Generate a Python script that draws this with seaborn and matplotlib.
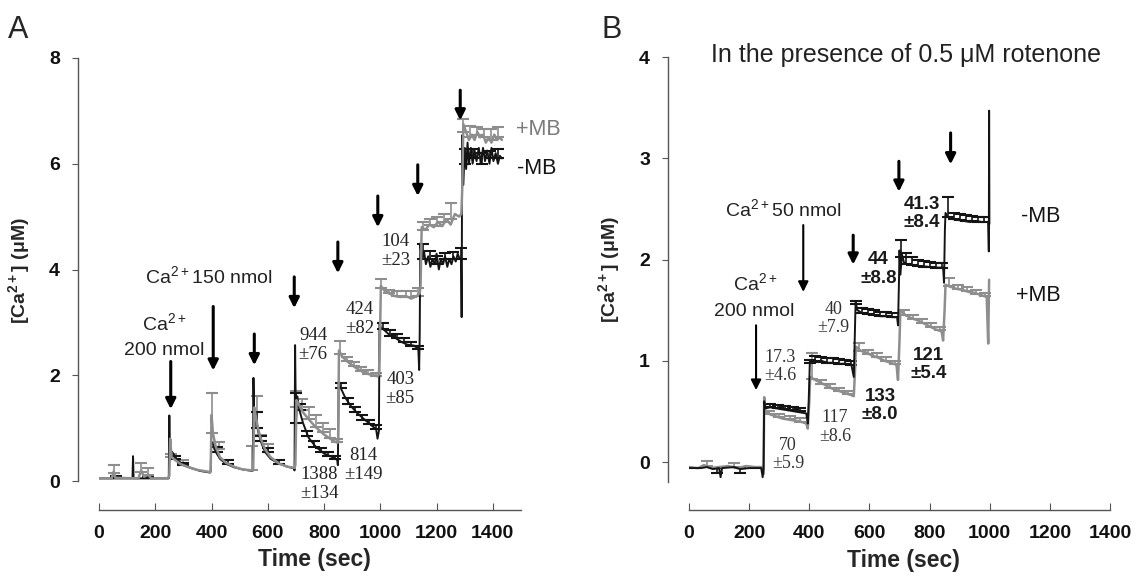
import numpy as np
import matplotlib
matplotlib.use('Agg')
import matplotlib.pyplot as plt
import seaborn as sns

# ---- Panel A traces (time in sec, [Ca2+] in uM) ----
a_black_t = [0, 60, 119, 121, 123, 180, 248,
             250, 252, 260, 275, 300, 330, 360, 395,
             397, 399, 405, 415, 430, 450, 480, 510, 545,
             547, 549, 552, 556, 565, 575, 590, 610, 640, 670, 693,
             695, 697, 700, 705, 712, 725, 745, 770, 800, 830, 847,
             849, 852, 860, 875, 895, 915, 940, 965, 985, 990,
             995, 997, 1002, 1015, 1035, 1055, 1075, 1095, 1120, 1135, 1138,
             1140, 1142, 1148, 1155, 1162, 1170, 1178, 1185, 1193, 1200, 1208, 1215, 1223,
             1230, 1238, 1245, 1253, 1260, 1268, 1275, 1282, 1287,
             1289, 1291, 1295, 1300, 1305, 1310, 1315, 1322, 1328, 1335, 1342, 1350,
             1357, 1365, 1372, 1380, 1388, 1395, 1402, 1410, 1418, 1425, 1432]
a_black_y = [0.05, 0.05, 0.05, 0.47, 0.05, 0.05, 0.05,
             1.24, 0.45, 0.55, 0.42, 0.30, 0.24, 0.19, 0.16,
             0.18, 0.75, 0.70, 0.55, 0.42, 0.33, 0.26, 0.22, 0.19,
             0.20, 1.95, 1.00, 1.30, 0.95, 0.75, 0.55, 0.42, 0.33, 0.27, 0.24,
             0.20, 2.57, 1.10, 1.60, 1.35, 1.10, 0.82, 0.65, 0.52, 0.45, 0.40,
             0.30, 1.84, 1.75, 1.58, 1.42, 1.30, 1.18, 1.07, 0.98, 0.80,
             0.95, 3.00, 2.90, 2.85, 2.75, 2.70, 2.63, 2.58, 2.56, 2.50, 2.10,
             2.80, 4.49, 4.20, 4.35, 4.10, 4.25, 4.05, 4.20, 4.10, 4.30, 4.00, 4.20, 4.10,
             4.25, 4.05, 4.20, 4.10, 4.25, 4.15, 4.30, 4.20, 4.20,
             3.10, 6.54, 5.60, 6.30, 5.90, 6.40, 6.00, 6.30, 6.00, 6.25, 6.05, 6.30,
             6.00, 6.30, 6.05, 6.25, 6.00, 6.30, 6.05, 6.20, 6.00, 6.15, 6.10]

a_gray_t = [0, 45, 52, 58, 140, 150, 160, 175, 185, 245,
            250, 253, 258, 270, 290, 320, 350, 395,
            397, 400, 405, 415, 430, 450, 480, 510, 545,
            548, 552, 558, 565, 575, 590, 610, 640, 670, 695,
            698, 702, 710, 725, 745, 770, 800, 830, 848,
            850, 853, 865, 885, 910, 935, 960, 990, 995,
            998, 1002, 1015, 1030, 1050, 1070, 1090, 1110, 1130, 1140,
            1143, 1147, 1160, 1175, 1190, 1205, 1220, 1235, 1250, 1265, 1280, 1288,
            1291, 1295, 1305, 1315, 1325, 1335, 1345, 1355, 1365, 1375, 1385, 1395,
            1405, 1415, 1425, 1432]
a_gray_y = [0.05, 0.05, 0.18, 0.06, 0.05, 0.20, 0.08, 0.12, 0.05, 0.05,
            0.10, 0.80, 0.45, 0.40, 0.32, 0.26, 0.21, 0.17,
            0.20, 1.25, 0.90, 0.65, 0.45, 0.35, 0.27, 0.22, 0.20,
            0.22, 1.39, 1.20, 1.00, 0.80, 0.60, 0.45, 0.33, 0.27, 0.25,
            0.30, 1.53, 1.45, 1.30, 1.17, 1.02, 0.88, 0.77, 0.72,
            0.75, 2.47, 2.35, 2.25, 2.15, 2.07, 2.02, 1.98, 2.02,
            2.50, 3.69, 3.60, 3.55, 3.50, 3.48, 3.50, 3.45, 3.50, 3.55,
            3.70, 4.80, 4.75, 4.85, 4.80, 4.90, 4.82, 4.95, 4.85, 5.05, 5.00, 5.05,
            5.50, 6.75, 6.60, 6.45, 6.55, 6.45, 6.60, 6.50, 6.55, 6.40, 6.50, 6.40,
            6.55, 6.45, 6.50, 6.45]

# error bars (time, mean, upper error)
a_black_eb_t = [60, 175, 270, 300, 420, 460, 560, 575, 600, 640, 700, 715, 740, 765, 790, 815,
                840, 860, 885, 910, 935, 960, 985, 1010, 1035, 1060, 1085, 1110, 1135,
                1150, 1175, 1200, 1230, 1260, 1285, 1300, 1330, 1360, 1390, 1420]
a_black_eb_y = [0.05, 0.05, 0.42, 0.30, 0.55, 0.33, 1.00, 0.75, 0.55, 0.33, 1.10, 1.35, 0.85, 0.65, 0.55, 0.48,
                0.42, 1.75, 1.45, 1.30, 1.15, 1.07, 0.98, 2.88, 2.75, 2.70, 2.62, 2.56, 2.50,
                4.20, 4.20, 4.10, 4.20, 4.20, 4.20, 6.00, 6.10, 6.00, 6.10, 6.10]
a_black_eb_e = [0.04, 0.03, 0.06, 0.05, 0.09, 0.06, 0.31, 0.10, 0.08, 0.06, 0.57, 0.10, 0.10, 0.10, 0.08, 0.06,
                0.05, 0.10, 0.12, 0.10, 0.10, 0.08, 0.08, 0.11, 0.10, 0.08, 0.08, 0.06, 0.06,
                0.29, 0.15, 0.15, 0.12, 0.14, 0.20, 0.28, 0.18, 0.20, 0.15, 0.18]

a_gray_eb_t = [52, 150, 175, 255, 300, 400, 425, 545, 560, 575, 600, 700, 720, 745, 770, 795, 820, 845,
               855, 880, 905, 930, 955, 985, 1002, 1030, 1060, 1090, 1110, 1135,
               1150, 1175, 1200, 1225, 1250, 1295, 1320, 1345, 1370, 1395, 1420]
a_gray_eb_y = [0.15, 0.17, 0.12, 0.45, 0.30, 0.90, 0.60, 0.20, 1.30, 0.75, 0.55, 1.40, 1.35, 1.17, 1.02, 0.92, 0.82, 0.73,
               2.40, 2.27, 2.17, 2.08, 2.03, 1.98, 3.65, 3.55, 3.50, 3.48, 3.48, 3.50,
               4.75, 4.85, 4.82, 4.90, 4.95, 6.60, 6.50, 6.55, 6.50, 6.45, 6.50]
a_gray_eb_e = [0.16, 0.18, 0.12, 0.07, 0.10, 0.77, 0.13, 0.46, 0.31, 0.12, 0.15, 0.30, 0.20, 0.23, 0.23, 0.18, 0.16, 0.07,
               0.24, 0.08, 0.08, 0.07, 0.07, 0.07, 0.18, 0.07, 0.10, 0.12, 0.12, 0.15,
               0.15, 0.10, 0.18, 0.15, 0.30, 0.25, 0.22, 0.15, 0.15, 0.20, 0.20]

# ---- Panel B traces ----
b_black_t = [0, 40, 60, 80, 100, 105, 110, 150, 170, 200, 240, 245, 248,
             250, 255, 270, 290, 310, 330, 350, 370, 390, 395,
             398, 402, 420, 440, 460, 480, 500, 520, 540, 548,
             551, 554, 560, 575, 595, 615, 635, 655, 675, 692, 695,
             698, 700, 703, 708, 715, 730, 750, 770, 790, 810, 830, 845, 848,
             851, 853, 860, 875, 895, 915, 935, 955, 975, 995, 997, 998, 999]
b_black_y = [-0.06, -0.06, -0.05, -0.07, -0.06, -0.15, -0.06, -0.05, -0.07, -0.06, -0.06, -0.15, -0.05,
             0.60, 0.53, 0.54, 0.53, 0.52, 0.51, 0.50, 0.49, 0.48, 0.38,
             0.60, 1.00, 0.99, 1.00, 0.98, 0.98, 0.97, 0.97, 0.96, 0.84,
             1.20, 1.58, 1.50, 1.47, 1.46, 1.45, 1.44, 1.44, 1.43, 1.43, 1.35,
             1.75, 2.09, 1.85, 2.05, 1.97, 1.95, 1.94, 1.93, 1.93, 1.92, 1.92, 1.92, 1.77,
             2.30, 2.46, 2.42, 2.40, 2.39, 2.38, 2.37, 2.38, 2.37, 2.37, 2.08, 3.47, 2.35]

b_gray_t = [0, 30, 50, 70, 100, 130, 160, 190, 220, 245,
            248, 250, 254, 270, 290, 310, 330, 350, 370, 390, 395,
            400, 403, 420, 440, 460, 480, 500, 520, 540, 548,
            552, 555, 570, 590, 610, 630, 650, 670, 690, 695,
            700, 703, 720, 740, 760, 780, 800, 820, 840, 845,
            850, 853, 870, 890, 910, 930, 950, 970, 990, 995, 998]
b_gray_y = [-0.05, -0.06, -0.03, -0.06, -0.05, -0.04, -0.06, -0.04, -0.05, -0.05,
            -0.12, 0.64, 0.50, 0.47, 0.45, 0.43, 0.42, 0.41, 0.40, 0.38, 0.33,
            0.60, 0.84, 0.81, 0.78, 0.75, 0.72, 0.70, 0.68, 0.66, 0.65,
            0.90, 1.14, 1.10, 1.08, 1.05, 1.03, 1.00, 0.98, 0.96, 0.81,
            1.20, 1.50, 1.45, 1.42, 1.40, 1.37, 1.34, 1.31, 1.29, 1.20,
            1.50, 1.75, 1.73, 1.71, 1.70, 1.68, 1.67, 1.65, 1.63, 1.17, 1.80]

b_black_eb_t = [92, 170, 270, 295, 320, 345, 370, 402, 420, 440, 460, 480, 500, 520, 540,
                556, 575, 595, 615, 635, 655, 675, 705, 720, 740, 760, 780, 800, 820, 840,
                860, 880, 900, 920, 940, 960, 980]
b_black_eb_y = [-0.06, -0.06, 0.54, 0.53, 0.52, 0.51, 0.50, 0.98, 1.00, 0.99, 0.98, 0.98, 0.97, 0.97, 0.96,
                1.56, 1.47, 1.46, 1.45, 1.44, 1.44, 1.43, 2.02, 1.96, 1.95, 1.94, 1.93, 1.93, 1.92, 1.92,
                2.42, 2.40, 2.39, 2.38, 2.38, 2.37, 2.37]
b_black_eb_lo = [0.05, 0.05, 0, 0, 0, 0, 0, 0, 0, 0, 0, 0, 0, 0, 0,
                 0, 0, 0, 0, 0, 0, 0, 0, 0, 0, 0, 0, 0, 0, 0,
                 0, 0, 0, 0, 0, 0, 0]
b_black_eb_hi = [0, 0, 0.03, 0.03, 0.03, 0.03, 0.03, 0.03, 0.05, 0.05, 0.05, 0.05, 0.05, 0.04, 0.04,
                 0.03, 0.05, 0.05, 0.05, 0.04, 0.04, 0.04, 0.17, 0.10, 0.07, 0.06, 0.06, 0.05, 0.05, 0.05,
                 0.20, 0.06, 0.06, 0.06, 0.05, 0.05, 0.05]

b_gray_eb_t = [60, 150, 265, 300, 335, 370, 410, 440, 470, 500, 530, 565, 595, 625, 655, 685,
               715, 745, 775, 805, 835, 865, 895, 925, 955, 985]
b_gray_eb_y = [-0.04, -0.05, 0.47, 0.44, 0.42, 0.40, 0.82, 0.77, 0.73, 0.70, 0.67, 1.10, 1.07, 1.04, 1.00, 0.97,
               1.45, 1.41, 1.37, 1.33, 1.30, 1.74, 1.71, 1.69, 1.66, 1.64]
b_gray_eb_e = [0.05, 0.04, 0.03, 0.03, 0.03, 0.03, 0.26, 0.04, 0.04, 0.03, 0.03, 0.08, 0.04, 0.04, 0.04, 0.03,
               0.05, 0.04, 0.04, 0.04, 0.03, 0.08, 0.04, 0.04, 0.04, 0.03]

# arrows: (time, tail y, tip y)
a_arrows = [(255, 2.26, 1.36), (406, 3.30, 2.09), (552, 2.78, 2.19), (694, 3.86, 3.27),
            (849, 4.52, 3.93), (991, 5.39, 4.80), (1133, 5.98, 5.39), (1284, 7.39, 6.82)]
b_arrows = [(223, 1.35, 0.71), (380, 2.34, 1.68), (546, 2.24, 1.95), (698, 2.97, 2.67), (870, 3.25, 2.94)]

# numeric annotations: (text, time, y)
a_notes = [('944\n±76', 761, 2.57), ('1388\n±134', 784, -0.06), ('814\n±149', 940, 0.30),
           ('424\n±82', 926, 3.06), ('403\n±85', 1071, 1.74), ('104\n±23', 1055, 4.35)]
b_notes_serif = [('17.3\n±4.6', 303, 0.94), ('40\n±7.9', 480, 1.415), ('70\n±5.9', 330, 0.075),
                 ('117\n±8.6', 486, 0.345)]
b_notes_bold = [('44\n±8.8', 630, 1.905), ('41.3\n±8.4', 774, 2.455), ('133\n±8.0', 635, 0.555),
                ('121\n±5.4', 796, 0.965)]

BLACK = '#141414'
GRAY = '#8e8e8e'

sns.set_style('ticks')
plt.rcParams['font.family'] = ['Liberation Sans', 'DejaVu Sans']
plt.rcParams['mathtext.fontset'] = 'custom'
plt.rcParams['mathtext.rm'] = 'Liberation Sans'
plt.rcParams['mathtext.bf'] = 'Liberation Sans:bold'
plt.rcParams['mathtext.default'] = 'regular'

fig = plt.figure(figsize=(11.37, 5.8), dpi=100)
ax_a = fig.add_axes([99 / 1137, 70 / 580, 422 / 1137, 452 / 580])
ax_b = fig.add_axes([689 / 1137, 70 / 580, 421 / 1137, 453 / 580])


def style_axes(ax, xmax, ylo, yhi, yticks, ybound_lo):
    ax.set_xlim(0, xmax)
    ax.set_ylim(ylo, yhi)
    ax.set_xticks(range(0, 1401, 200))
    ax.set_yticks(yticks)
    for s in ['top', 'right']:
        ax.spines[s].set_visible(False)
    ax.spines['left'].set_position(('outward', 15))
    ax.spines['left'].set_bounds(ybound_lo, yhi)
    ax.spines['bottom'].set_bounds(0, xmax)
    for s in ['left', 'bottom']:
        ax.spines[s].set_color('#555555')
        ax.spines[s].set_linewidth(1.0)
    ax.tick_params(axis='x', direction='in', length=5, pad=11, colors='#555555', labelcolor='#111111')
    ax.tick_params(axis='y', direction='out', length=4, pad=9, colors='#555555', labelcolor='#111111')
    for lab in ax.get_xticklabels() + ax.get_yticklabels():
        lab.set_fontweight('bold')
        lab.set_fontsize(14)
    ax.set_xlabel('Time (sec)', fontsize=16.5, fontweight='bold')
    ax.set_ylabel(r'[Ca$^{\mathbf{2+}}$] (μM)', fontsize=14, fontweight='bold')
    ax.xaxis.set_label_coords(0.51, -0.085)
    ax.yaxis.set_label_coords(-0.158, 0.53)


def draw_arrows(ax, arrows, lw):
    for t, y0, y1 in arrows:
        ax.annotate('', xy=(t, y1), xytext=(t, y0),
                    arrowprops=dict(arrowstyle='-|>', color='black', lw=lw,
                                    mutation_scale=15, shrinkA=0, shrinkB=0))


# ---- Panel A ----
ax = ax_a
ax.errorbar(a_gray_eb_t, a_gray_eb_y, yerr=[np.zeros(len(a_gray_eb_e)), a_gray_eb_e], fmt='none',
            ecolor=GRAY, elinewidth=1.2, capsize=4, capthick=1.5, zorder=2)
ax.errorbar(a_black_eb_t, a_black_eb_y, yerr=[np.zeros(len(a_black_eb_e)), a_black_eb_e], fmt='none',
            ecolor=BLACK, elinewidth=1.2, capsize=4, capthick=1.5, zorder=2)
sns.lineplot(x=a_black_t, y=a_black_y, ax=ax, color=BLACK, lw=1.4, estimator=None, sort=False, zorder=3)
sns.lineplot(x=a_gray_t, y=a_gray_y, ax=ax, color=GRAY, lw=1.8, estimator=None, sort=False, zorder=4)
style_axes(ax, 1500, -0.548, 8.0, range(0, 9, 2), 0)
draw_arrows(ax, a_arrows, 2.2)

for txt, t, y in a_notes:
    ax.text(t, y, txt, ha='center', va='center', fontsize=13.5, family='Liberation Serif',
            color='#222222', linespacing=1.15)
ax.text(165, 3.74, 'Ca$^{2+}$150 nmol', fontsize=14, va='baseline', color='#222222')
ax.text(232, 2.85, 'Ca$^{2+}$', fontsize=14, ha='center', va='baseline', color='#222222')
ax.text(230, 2.38, '200 nmol', fontsize=14, ha='center', va='baseline', color='#222222')
ax.text(1481, 6.55, '+MB', fontsize=15.5, color='#7a7a7a', va='baseline')
ax.text(1487, 5.80, '-MB', fontsize=15.5, color=BLACK, va='baseline')

# ---- Panel B ----
ax = ax_b
ax.errorbar(b_gray_eb_t, b_gray_eb_y, yerr=[np.zeros(len(b_gray_eb_e)), b_gray_eb_e], fmt='none',
            ecolor=GRAY, elinewidth=1.2, capsize=4, capthick=1.5, zorder=2)
ax.errorbar(b_black_eb_t, b_black_eb_y, yerr=[b_black_eb_lo, b_black_eb_hi], fmt='none',
            ecolor=BLACK, elinewidth=1.2, capsize=4, capthick=1.5, zorder=2)
sns.lineplot(x=b_gray_t, y=b_gray_y, ax=ax, color=GRAY, lw=1.8, estimator=None, sort=False, zorder=3)
sns.lineplot(x=b_black_t, y=b_black_y, ax=ax, color=BLACK, lw=1.4, estimator=None, sort=False, zorder=4)
style_axes(ax, 1400, -0.474, 4.0, range(0, 5), -0.2)
draw_arrows(ax, b_arrows[:2], 1.5)
draw_arrows(ax, b_arrows[2:], 2.2)

for txt, t, y in b_notes_serif:
    ax.text(t, y, txt, ha='center', va='center', fontsize=13, family='Liberation Serif',
            color='#333333', linespacing=1.1)
for txt, t, y in b_notes_bold:
    ax.text(t, y, txt, ha='center', va='center', fontsize=13.5, fontweight='bold',
            color='#1a1a1a', linespacing=1.1)
ax.text(120, 2.43, 'Ca$^{2+}$50 nmol', fontsize=14, va='baseline', color='#222222')
ax.text(219, 1.70, 'Ca$^{2+}$', fontsize=14, ha='center', va='baseline', color='#222222')
ax.text(217, 1.44, '200 nmol', fontsize=14, ha='center', va='baseline', color='#222222')
ax.text(722, 3.95, 'In the presence of 0.5 μM rotenone', fontsize=18, ha='center', va='baseline',
        color='#222222')
ax.text(1104, 2.37, '-MB', fontsize=15.5, color=BLACK, va='baseline')
ax.text(1088, 1.59, '+MB', fontsize=15.5, color=BLACK, va='baseline')

fig.text(8 / 1137, 1 - 38 / 580, 'A', fontsize=22, va='baseline')
fig.text(601 / 1137, 1 - 38 / 580, 'B', fontsize=22, va='baseline')

fig.savefig('out.png', dpi=100)
